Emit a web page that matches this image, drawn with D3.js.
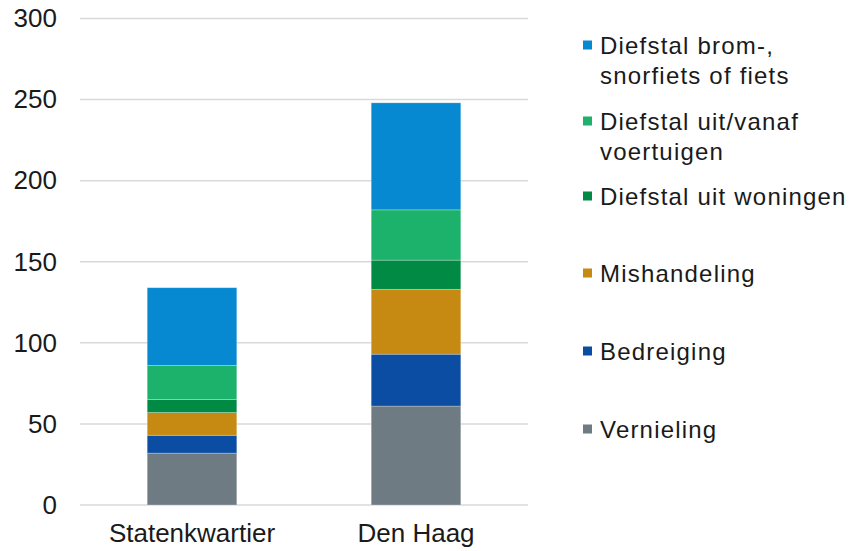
<!DOCTYPE html>
<html>
<head>
<meta charset="utf-8">
<script src="https://cdn.jsdelivr.net/npm/d3@7"></script>
<style>
  body { margin: 0; background: #fff; }
  svg text { font-family: "Liberation Sans", Arial, sans-serif; fill: #1a1a1a; }
</style>
</head>
<body>
<div id="chart"></div>
<script>
// categories on the x axis
const categories = ["Statenkwartier", "Den Haag"];

// series, bottom of stack first
const seriesNames = [
    "Vernieling",
    "Bedreiging",
    "Mishandeling",
    "Diefstal uit woningen",
    "Diefstal uit/vanaf voertuigen",
    "Diefstal brom-, snorfiets of fiets"
];
const seriesColors = ["#6e7b83", "#0b4da2", "#c68a12", "#008a44", "#1cb26c", "#0689d0"];

// values per series: [Statenkwartier, Den Haag]
const vernieling = [32, 61];
const bedreiging = [11, 32];
const mishandeling = [14, 40];
const woningen = [8, 18];
const voertuigen = [21, 31];
const fietsen = [48, 66];

const yTicks = [0, 50, 100, 150, 200, 250, 300];

// legend lines (wrapped as in the original), top to bottom
const legendLines = [
    ["Diefstal brom-,", "snorfiets of fiets"],
    ["Diefstal uit/vanaf", "voertuigen"],
    ["Diefstal uit woningen"],
    ["Mishandeling"],
    ["Bedreiging"],
    ["Vernieling"]
];
const legendRows = [45, 121, 196, 273, 351, 429];

const width = 851, height = 551;
const margin = {top: 18.5, right: 323, bottom: 46, left: 80};

const seriesValues = [vernieling, bedreiging, mishandeling, woningen, voertuigen, fietsen];
const table = categories.map((c, i) => {
    const row = {category: c};
    seriesNames.forEach((s, j) => row[s] = seriesValues[j][i]);
    return row;
});
const stacked = d3.stack().keys(seriesNames)(table);

const svg = d3.select("#chart").append("svg")
    .attr("width", width)
    .attr("height", height);

const x = d3.scaleBand()
    .domain(categories)
    .range([margin.left, width - margin.right])
    .paddingInner(0.6)
    .paddingOuter(0.3);

const y = d3.scaleLinear()
    .domain([0, 300])
    .range([height - margin.bottom, margin.top]);

// gridlines
svg.append("g")
    .selectAll("line")
    .data(yTicks)
    .join("line")
    .attr("x1", margin.left)
    .attr("x2", width - margin.right)
    .attr("y1", d => y(d))
    .attr("y2", d => y(d))
    .attr("stroke", "#d9d9d9")
    .attr("stroke-width", 1.5);

// y axis labels
const yAxis = svg.append("g")
    .attr("transform", `translate(${margin.left},0)`)
    .call(d3.axisLeft(y).tickValues(yTicks).tickSize(0).tickPadding(23));
yAxis.select(".domain").remove();
yAxis.selectAll("text")
    .style("font-size", "26px")
    .style("font-family", "'Liberation Sans', Arial, sans-serif")
    .attr("fill", "#1a1a1a");

// bars
svg.append("g")
    .selectAll("g")
    .data(stacked)
    .join("g")
    .attr("fill", (d, i) => seriesColors[i])
    .selectAll("rect")
    .data(d => d)
    .join("rect")
    .attr("x", d => x(d.data.category))
    .attr("width", x.bandwidth())
    .attr("y", d => y(d[1]))
    .attr("height", d => y(d[0]) - y(d[1]))
    .attr("stroke", "rgba(255,255,255,0.35)")
    .attr("stroke-width", 0.75);

// x axis labels
const xAxis = svg.append("g")
    .attr("transform", `translate(0,${height - margin.bottom})`)
    .call(d3.axisBottom(x).tickSize(0).tickPadding(19));
xAxis.select(".domain").remove();
xAxis.selectAll("text")
    .style("font-size", "26px")
    .style("font-family", "'Liberation Sans', Arial, sans-serif")
    .attr("fill", "#1a1a1a");

// legend
const legendColors = seriesColors.slice().reverse();
const legend = svg.append("g")
    .selectAll("g")
    .data(legendLines)
    .join("g")
    .attr("transform", (d, i) => `translate(583,${legendRows[i]})`);

legend.append("rect")
    .attr("x", 0)
    .attr("y", -4.5)
    .attr("width", 9)
    .attr("height", 9)
    .attr("fill", (d, i) => legendColors[i]);

legend.append("text")
    .attr("x", 17)
    .attr("y", 9)
    .style("font-size", "24px")
    .style("letter-spacing", "1.2px")
    .selectAll("tspan")
    .data(d => d)
    .join("tspan")
    .attr("x", 17)
    .attr("dy", (d, i) => i === 0 ? 0 : 30)
    .text(d => d);
</script>
</body>
</html>
